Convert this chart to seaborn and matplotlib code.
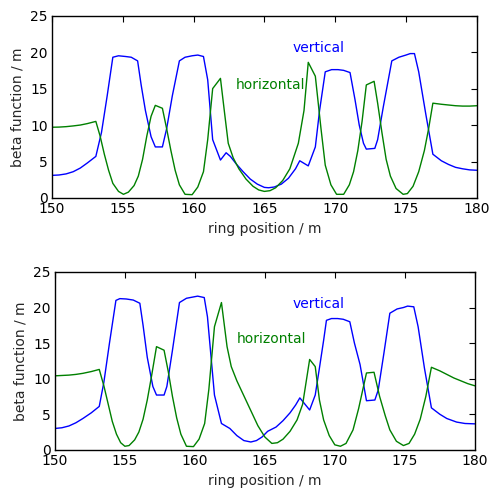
import matplotlib
matplotlib.use("Agg")
import matplotlib.pyplot as plt
import seaborn as sns

# upper panel: vertical beta function
top_v_s = [150.0, 150.5, 151.0, 151.5, 152.0, 152.5, 153.1, 153.5, 153.9, 154.3, 154.7, 155.2,
           155.6, 156.05, 156.3, 156.6, 157.0, 157.3, 157.8, 158.1, 158.5, 159.0, 159.4, 159.9,
           160.3, 160.7, 161.0, 161.35, 161.9, 162.3, 162.6, 163.0, 163.5, 164.0, 164.5, 165.0,
           165.3, 165.7, 166.2, 166.7, 167.2, 167.5, 168.1, 168.6, 168.9, 169.3, 169.75, 170.2,
           170.6, 171.05, 171.4, 171.7, 172.0, 172.2, 172.8, 173.0, 173.4, 174.0, 174.5, 175.0,
           175.3, 175.6, 175.9, 176.4, 176.9, 177.5, 178.0, 178.5, 179.0, 179.5, 180.0]
top_v_beta = [3.1, 3.15, 3.3, 3.6, 4.1, 4.8, 5.7, 9.0, 14.0, 19.3, 19.5, 19.4,
              19.3, 18.8, 15.5, 12.0, 8.4, 7.0, 7.0, 9.5, 14.0, 18.8, 19.3, 19.5,
              19.6, 19.4, 16.2, 8.0, 5.2, 6.2, 5.7, 4.7, 3.6, 2.6, 1.9, 1.45,
              1.4, 1.5, 1.9, 2.7, 4.0, 5.1, 4.4, 7.0, 12.0, 17.3, 17.6, 17.6,
              17.5, 17.2, 13.5, 10.0, 7.5, 6.7, 6.8, 8.0, 12.5, 18.8, 19.3, 19.6,
              19.8, 19.8, 17.3, 11.5, 6.0, 5.1, 4.6, 4.2, 4.0, 3.85, 3.8]

# upper panel: horizontal beta function
top_h_s = [150.0, 150.5, 151.0, 151.5, 152.0, 152.5, 153.1, 153.4, 153.7, 154.0, 154.3, 154.7,
           155.05, 155.4, 155.8, 156.1, 156.4, 156.7, 157.0, 157.3, 157.8, 158.1, 158.4, 158.7,
           159.0, 159.4, 159.9, 160.3, 160.7, 161.0, 161.35, 161.9, 162.2, 162.45, 162.8, 163.2,
           163.7, 164.2, 164.6, 165.0, 165.4, 165.8, 166.3, 166.8, 167.4, 167.8, 168.1, 168.6,
           169.0, 169.3, 169.7, 170.1, 170.6, 171.0, 171.3, 171.6, 171.9, 172.2, 172.75, 173.0,
           173.3, 173.6, 173.9, 174.3, 174.8, 175.1, 175.5, 175.9, 176.3, 176.6, 176.9, 177.5,
           178.0, 178.5, 179.0, 179.5, 180.0]
top_h_beta = [9.7, 9.72, 9.78, 9.88, 10.0, 10.2, 10.5, 8.5, 6.0, 3.8, 2.0, 0.9,
              0.5, 0.8, 1.7, 3.0, 5.3, 8.5, 11.2, 12.7, 12.3, 9.5, 6.5, 3.8,
              1.8, 0.5, 0.45, 1.5, 3.6, 8.0, 15.0, 16.4, 11.5, 7.5, 5.5, 4.0,
              2.6, 1.6, 1.1, 0.9, 1.0, 1.4, 2.4, 4.0, 7.5, 12.0, 18.6, 16.7,
              9.5, 4.5, 1.8, 0.5, 0.5, 1.8, 3.6, 6.5, 10.5, 15.5, 16.0, 13.0,
              9.0, 5.3, 3.0, 1.3, 0.5, 0.6, 1.6, 3.6, 6.5, 9.5, 13.0, 12.85,
              12.75, 12.65, 12.6, 12.6, 12.65]

# lower panel: vertical beta function
bot_v_s = [150.0, 150.5, 151.0, 151.5, 152.0, 152.6, 153.17, 153.5, 153.9, 154.36, 154.64, 155.1,
           155.6, 156.07, 156.3, 156.6, 157.0, 157.26, 157.8, 158.0, 158.4, 158.9, 159.4, 159.8,
           160.2, 160.67, 160.9, 161.4, 161.9, 162.5, 163.0, 163.5, 164.0, 164.4, 164.8, 165.2,
           165.8, 166.3, 166.8, 167.2, 167.5, 168.2, 168.6, 168.9, 169.2, 169.4, 169.76, 170.2,
           170.6, 171.07, 171.4, 171.8, 172.26, 172.86, 173.1, 173.5, 173.93, 174.45, 174.9, 175.2,
           175.64, 175.95, 176.4, 176.9, 177.5, 178.0, 178.7, 179.3, 180.0]
bot_v_beta = [3.0, 3.1, 3.35, 3.8, 4.4, 5.2, 6.1, 9.5, 15.0, 21.0, 21.25, 21.2,
              21.05, 20.6, 17.5, 13.0, 8.9, 7.7, 7.7, 8.9, 14.0, 20.7, 21.3, 21.45,
              21.6, 21.4, 18.7, 7.7, 3.7, 3.0, 2.0, 1.3, 1.1, 1.3, 1.8, 2.6,
              3.2, 4.1, 5.2, 6.3, 7.3, 5.6, 7.7, 11.5, 15.4, 18.2, 18.45, 18.45,
              18.35, 18.0, 15.0, 12.0, 6.9, 7.0, 8.4, 13.5, 19.2, 19.8, 20.0, 20.2,
              20.1, 17.3, 11.5, 5.9, 5.0, 4.4, 3.9, 3.7, 3.65]

# lower panel: horizontal beta function
bot_h_s = [150.0, 150.5, 151.0, 151.5, 152.0, 152.6, 153.17, 153.5, 153.8, 154.1, 154.4, 154.7,
           155.0, 155.3, 155.7, 156.0, 156.3, 156.6, 156.9, 157.26, 157.8, 158.1, 158.4, 158.7,
           159.0, 159.4, 159.9, 160.3, 160.7, 161.0, 161.4, 161.9, 162.3, 162.6, 163.0, 163.5,
           164.0, 164.5, 165.0, 165.5, 165.9, 166.3, 166.8, 167.3, 167.7, 168.2, 168.6, 168.9,
           169.2, 169.6, 170.0, 170.4, 170.8, 171.3, 171.7, 172.26, 172.8, 173.2, 173.6, 173.93,
           174.4, 174.9, 175.3, 175.7, 176.1, 176.5, 176.9, 177.5, 178.0, 178.5, 179.0, 179.5,
           180.0]
bot_h_beta = [10.4, 10.45, 10.5, 10.6, 10.75, 11.0, 11.3, 9.0, 6.5, 4.0, 2.2, 1.0,
              0.5, 0.6, 1.4, 2.5, 4.3, 7.0, 10.3, 14.5, 14.0, 11.0, 7.5, 4.5,
              2.2, 0.5, 0.45, 1.5, 3.7, 8.5, 17.3, 20.7, 14.5, 11.7, 9.7, 7.6,
              5.5, 3.4, 1.8, 0.9, 1.0, 1.5, 2.6, 4.2, 6.4, 12.7, 11.7, 7.0,
              4.2, 2.0, 0.7, 0.5, 0.9, 2.8, 5.8, 10.8, 10.9, 7.5, 4.8, 2.8,
              1.2, 0.6, 0.9, 2.2, 4.3, 7.5, 11.6, 11.1, 10.6, 10.1, 9.7, 9.3,
              9.0]

sns.set_style("white")
plt.rcParams["font.family"] = ["DejaVu Sans"]
plt.rcParams["font.size"] = 10

fig = plt.figure(figsize=(4.9, 4.9), dpi=100)
ax1 = fig.add_axes([0.106, 0.596, 0.867, 0.372])
ax2 = fig.add_axes([0.112, 0.082, 0.857, 0.363])

panels = [(ax1, top_v_s, top_v_beta, top_h_s, top_h_beta),
          (ax2, bot_v_s, bot_v_beta, bot_h_s, bot_h_beta)]

for ax, vs, vb, hs, hb in panels:
    sns.lineplot(x=vs, y=vb, ax=ax, color="b", lw=1, sort=False, estimator=None)
    sns.lineplot(x=hs, y=hb, ax=ax, color="g", lw=1, sort=False, estimator=None)
    ax.text(167, 20, "vertical", color="b", fontsize=10)
    ax.text(163, 15, "horizontal", color="g", fontsize=10)
    ax.set_xlim(150, 180)
    ax.set_ylim(0, 25)
    ax.set_xticks([150, 155, 160, 165, 170, 175, 180])
    ax.set_yticks([0, 5, 10, 15, 20, 25])
    ax.tick_params(direction="in", top=True, right=True, length=4, width=0.8,
                   labelsize=10, colors="black", pad=3)
    for sp in ax.spines.values():
        sp.set_color("black")
        sp.set_linewidth(1)
    ax.set_xlabel("ring position / m", fontsize=10, labelpad=4)
    ax.set_ylabel("beta function / m", fontsize=10, labelpad=4)

fig.savefig("out.png", dpi=100)
